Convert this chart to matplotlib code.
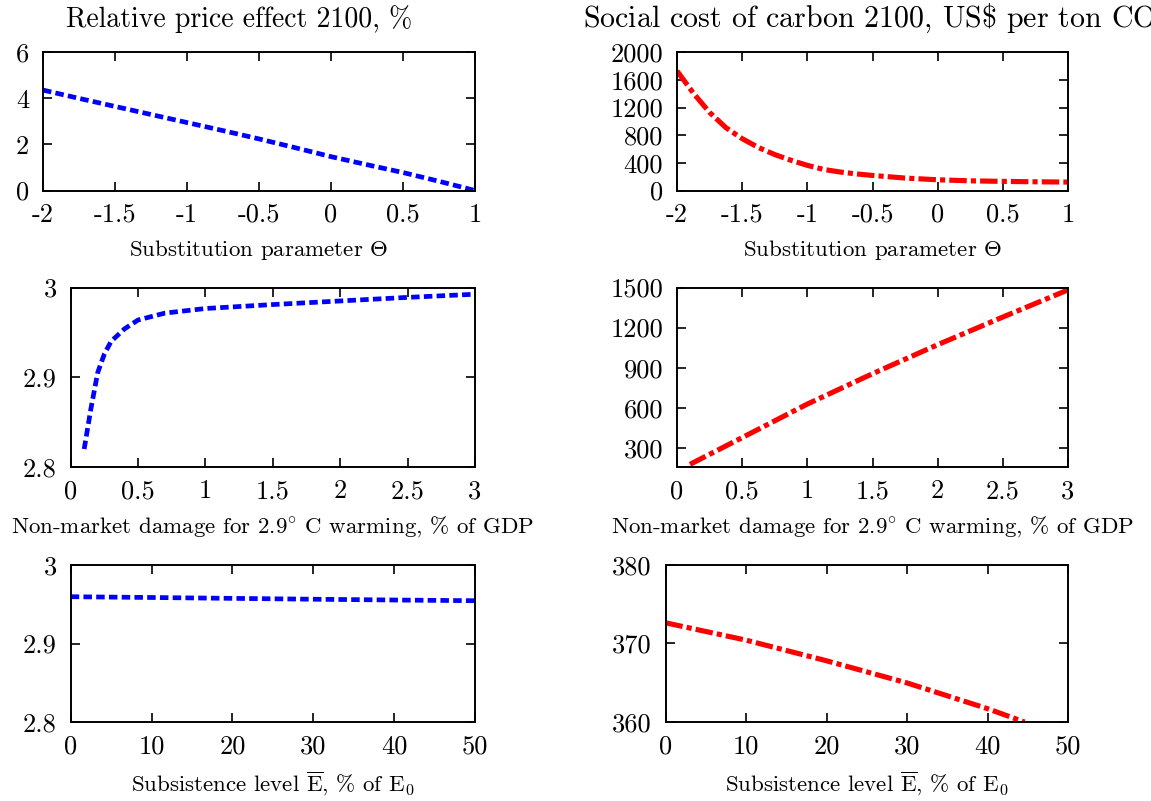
import matplotlib
matplotlib.use("Agg")
import matplotlib.pyplot as plt

plt.rcParams['font.family'] = ['cmr10', 'DejaVu Serif']
plt.rcParams['mathtext.fontset'] = 'cm'
plt.rcParams['axes.unicode_minus'] = False

# panel data
theta = [-2, -1.75, -1.5, -1.25, -1, -0.75, -0.5, -0.25, 0, 0.25, 0.5, 0.75, 1]
price_theta = [4.36, 4.0, 3.65, 3.3, 2.95, 2.6, 2.24, 1.86, 1.47, 1.12, 0.78, 0.40, 0.0]

theta_scc = [-2, -1.875, -1.75, -1.625, -1.5, -1.375, -1.25, -1.125, -1, -0.875,
             -0.75, -0.625, -0.5, -0.25, 0, 0.25, 0.5, 0.75, 1]
scc_theta = [1730, 1410, 1130, 910, 750, 622, 520, 437, 364, 305,
             268, 240, 218, 180, 155, 140, 132, 126, 122]

dmg = [0.1, 0.15, 0.2, 0.25, 0.3, 0.4, 0.5, 0.7, 1.0, 1.5, 2.0, 2.5, 3.0]
price_dmg = [2.820, 2.865, 2.905, 2.926, 2.940, 2.954, 2.9638, 2.9715, 2.9766,
             2.981, 2.985, 2.989, 2.9925]

dmg_scc = [0.1, 0.5, 1.0, 1.5, 2.0, 2.5, 3.0]
scc_dmg = [177, 377, 628, 855, 1072, 1279, 1482]

subs = [0, 10, 20, 30, 40, 50]
price_subs = [2.9596, 2.9586, 2.9575, 2.9564, 2.9554, 2.9545]

subs_scc = [0, 10, 20, 30, 40, 44.6]
scc_subs = [372.64, 370.43, 367.8, 364.98, 361.7, 360.0]

theta_ticks = [-2, -1.5, -1, -0.5, 0, 0.5, 1]
theta_labels = ['-2', '-1.5', '-1', '-0.5', '0', '0.5', '1']
dmg_ticks = [0, 0.5, 1, 1.5, 2, 2.5, 3]
dmg_labels = ['0', '0.5', '1', '1.5', '2', '2.5', '3']
subs_ticks = [0, 10, 20, 30, 40, 50]
subs_labels = ['0', '10', '20', '30', '40', '50']

W, H = 1151, 801
fig = plt.figure(figsize=(W / 100, H / 100), dpi=100)


def box(l, r, t, b):
    return [l / W, 1 - b / H, (r - l) / W, (b - t) / H]


blue_style = dict(color='#0000ff', lw=3.4, ls=(0, (1.8, 0.9)), dash_capstyle='butt')
red_style = dict(color='#ff0000', lw=3.7, ls=(0, (3.4, 0.8, 1.0, 0.8)),
                 dash_capstyle='butt')

xlab_theta = r'Substitution parameter $\Theta$'
xlab_dmg = r'Non-market damage for 2.9$^{\circ}$ C warming, % of GDP'
xlab_subs = r'Subsistence level $\overline{\mathrm{E}}$, % of E$_0$'

panels = [
    (box(43, 475, 52.3, 190.5), theta, price_theta, blue_style, theta_ticks, theta_labels,
     (-2, 1), (0, 6), [0, 2, 4, 6], ['0', '2', '4', '6'], xlab_theta),
    (box(677, 1068, 52.3, 190.5), theta_scc, scc_theta, red_style, theta_ticks, theta_labels,
     (-2, 1), (0, 2000), [0, 400, 800, 1200, 1600, 2000],
     ['0', '400', '800', '1200', '1600', '2000'], xlab_theta),
    (box(70.7, 475, 287.5, 467), dmg, price_dmg, blue_style, dmg_ticks, dmg_labels,
     (0, 3), (2.8, 3.0), [2.8, 2.9, 3.0], ['2.8', '2.9', '3'], xlab_dmg),
    (box(677, 1068, 287.5, 467), dmg_scc, scc_dmg, red_style, dmg_ticks, dmg_labels,
     (0, 3), (157, 1500), [300, 600, 900, 1200, 1500],
     ['300', '600', '900', '1200', '1500'], xlab_dmg),
    (box(70.7, 475, 565, 722), subs, price_subs, blue_style, subs_ticks, subs_labels,
     (0, 50), (2.8, 3.0), [2.8, 2.9, 3.0], ['2.8', '2.9', '3'], xlab_subs),
    (box(665.5, 1068, 565, 722), subs_scc, scc_subs, red_style, subs_ticks, subs_labels,
     (0, 50), (360, 380), [360, 370, 380], ['360', '370', '380'], xlab_subs),
]

for rect, x, y, style, xt, xtl, xl, yl, yt, ytl, xlab in panels:
    ax = fig.add_axes(rect)
    ax.plot(x, y, **style)
    ax.set_xlim(*xl)
    ax.set_ylim(*yl)
    ax.set_xticks(xt)
    ax.set_xticklabels(xtl)
    ax.set_yticks(yt)
    ax.set_yticklabels(ytl)
    ax.tick_params(direction='in', length=6.7, width=1.2, top=True, right=True,
                   labelsize=19)
    ax.tick_params(axis='x', pad=9)
    ax.tick_params(axis='y', pad=10)
    for sp in ax.spines.values():
        sp.set_linewidth(1.4)
    ax.set_xlabel(xlab, fontsize=16.5, labelpad=8)

fig.text(239 / W, 1 - 27 / H, 'Relative price effect 2100, %', fontsize=20,
         ha='center', va='baseline')
fig.text(583 / W, 1 - 27 / H, r'Social cost of carbon 2100, US\$ per ton CO$_2$',
         fontsize=21.6, ha='left', va='baseline')

fig.savefig('out.png', dpi=100)
